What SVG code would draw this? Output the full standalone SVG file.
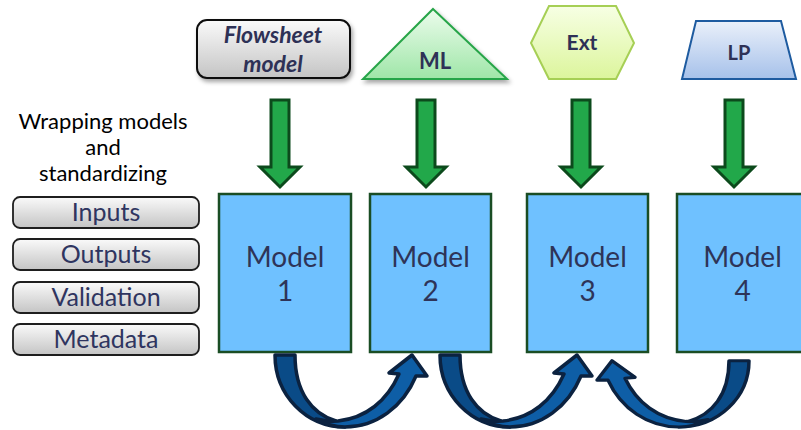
<svg xmlns="http://www.w3.org/2000/svg" width="801" height="430" viewBox="0 0 801 430">
<defs>
<linearGradient id="gGray" x1="0" y1="0" x2="0" y2="1"><stop offset="0" stop-color="#FAFAFA"/><stop offset="1" stop-color="#C4C4C4"/></linearGradient>
<linearGradient id="gTri" x1="0" y1="0" x2="0" y2="1"><stop offset="0" stop-color="#ECFCEC"/><stop offset="1" stop-color="#9FE6A8"/></linearGradient>
<linearGradient id="gHex" x1="0" y1="0" x2="0" y2="1"><stop offset="0" stop-color="#F7FFE4"/><stop offset="1" stop-color="#DCF59C"/></linearGradient>
<linearGradient id="gTrap" x1="0" y1="0" x2="0" y2="1"><stop offset="0" stop-color="#EAF0FA"/><stop offset="1" stop-color="#A6C1EA"/></linearGradient>
<filter id="sh" x="-20%" y="-20%" width="140%" height="150%"><feDropShadow dx="2" dy="3" stdDeviation="2" flood-color="#000" flood-opacity="0.35"/></filter>
<style>
.cap{font-family:Lato,"Liberation Sans",sans-serif;fill:#000;font-size:22px;text-anchor:middle}
.pill rect{fill:url(#gGray);stroke:#1E1E1E;stroke-width:1.8}
.pill text{font-family:Lato,"Liberation Sans",sans-serif;fill:#2F3560;font-size:25px;text-anchor:middle}
.model rect{fill:#6FC1FF;stroke:#1A4D24;stroke-width:2.5}
.model text{font-family:Lato,"Liberation Sans",sans-serif;fill:#2E3458;font-size:28px;text-anchor:middle}
.lbl{font-family:Lato,"Liberation Sans",sans-serif;fill:#2E3156;font-weight:bold;text-anchor:middle}
.garrow{fill:#22A84A;stroke:#0C4A1C;stroke-width:3;stroke-linejoin:miter}
.bback{fill:#0A4B87;stroke:#0B2240;stroke-width:3.5;stroke-linejoin:round}
.bfront{fill:#0E5EA6;stroke:#0B2240;stroke-width:3.5;stroke-linejoin:round}
</style>
<g id="curveArrow">
<path class="bback" d="M275,355 L295,355 C295,392 312,414 336,421 L345,427 C306,427 275,395 275,355 Z"/>
<path class="bfront" d="M316,419 C325,424 335,427 345,427 C376,427 403,407 416,376 L427,376 L412,355 L389,373 L399,374 C387,401 366,418 338,421 C330,421.5 322,420.5 316,419 Z"/>
</g>
</defs>

<text class="cap"><tspan x="103" y="129">Wrapping models</tspan><tspan x="103" y="155">and</tspan><tspan x="103" y="181">standardizing</tspan></text>

<g id="inputs" class="pill"><rect x="13" y="197" width="186" height="31" rx="7"/><text x="106" y="221">Inputs</text></g>
<g id="outputs" class="pill"><rect x="13" y="239" width="186" height="31" rx="7"/><text x="106" y="263">Outputs</text></g>
<g id="validation" class="pill"><rect x="13" y="282" width="186" height="31" rx="7"/><text x="106" y="306">Validation</text></g>
<g id="metadata" class="pill"><rect x="13" y="324" width="186" height="31" rx="7"/><text x="106" y="348">Metadata</text></g>

<g id="flowsheet">
<rect x="197" y="20" width="153" height="58" rx="10" fill="url(#gGray)" stroke="#111" stroke-width="2" filter="url(#sh)"/>
<text class="lbl" font-style="italic" font-size="23"><tspan x="273" y="43">Flowsheet</tspan><tspan x="273" y="72">model</tspan></text>
</g>
<g id="ml">
<polygon points="433,9 507,79 363,79" fill="url(#gTri)" stroke="#28A548" stroke-width="2" stroke-linejoin="miter" filter="url(#sh)"/>
<text class="lbl" x="435" y="69" font-size="22">ML</text>
</g>
<g id="ext">
<polygon points="531,43 549,6 616,6 634,43 616,79 549,79" fill="url(#gHex)" stroke="#A6CF55" stroke-width="2"/>
<text class="lbl" x="582" y="50" font-size="21">Ext</text>
</g>
<g id="lp">
<polygon points="696,21 781,21 796,79 682,79" fill="url(#gTrap)" stroke="#1E5BA0" stroke-width="2"/>
<text class="lbl" x="739" y="60" font-size="20">LP</text>
</g>

<g id="model1" class="model"><rect x="219" y="194" width="132" height="158"/><text><tspan x="285" y="267">Model</tspan><tspan x="285" y="301">1</tspan></text></g>
<g id="model2" class="model"><rect x="370" y="194" width="121" height="158"/><text><tspan x="430.5" y="267">Model</tspan><tspan x="430.5" y="301">2</tspan></text></g>
<g id="model3" class="model"><rect x="527" y="194" width="121" height="158"/><text><tspan x="587.5" y="267">Model</tspan><tspan x="587.5" y="301">3</tspan></text></g>
<g id="model4" class="model"><rect x="677" y="194" width="131" height="158"/><text><tspan x="742.5" y="267">Model</tspan><tspan x="742.5" y="301">4</tspan></text></g>

<g id="connectors">
<polygon class="garrow" points="271,100 289,100 289,167 300,167 280,187 260,167 271,167"/>
<polygon class="garrow" points="417,100 435,100 435,167 446,167 426,187 406,167 417,167"/>
<polygon class="garrow" points="572,100 590,100 590,167 601,167 581,187 561,167 572,167"/>
<polygon class="garrow" points="725,100 743,100 743,167 754,167 734,187 714,167 725,167"/>
<use href="#curveArrow"/>
<use href="#curveArrow" transform="translate(165,0)"/>
<use href="#curveArrow" transform="matrix(-1,0,0,0.92,1024,34.16)"/>
</g>
</svg>
